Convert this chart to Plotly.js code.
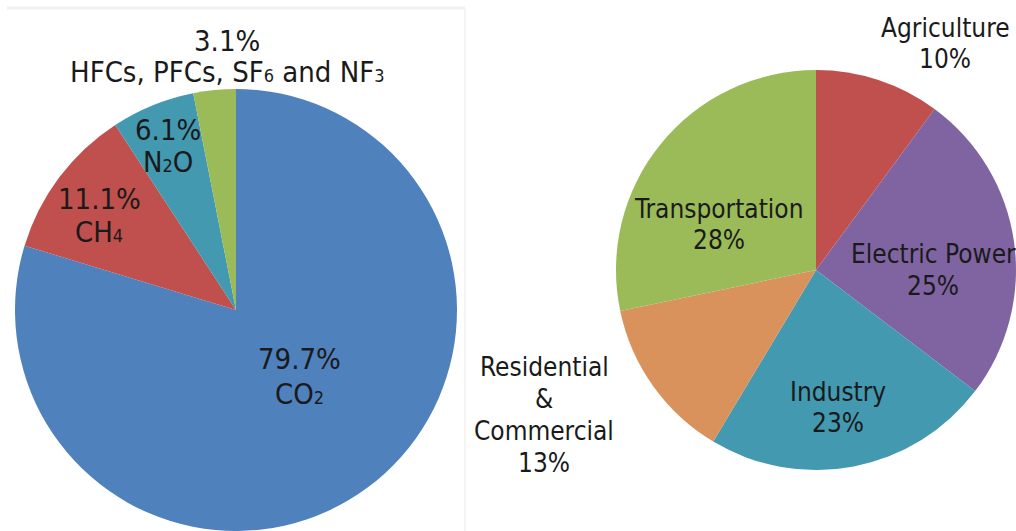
<!DOCTYPE html>
<html>
<head>
<meta charset="utf-8">
<script src="https://cdn.plot.ly/plotly-3.0.1.min.js"></script>
<style>html,body{margin:0;padding:0;background:#fff;}#chart{width:1016px;height:531px;}</style>
</head>
<body>
<div id="chart"></div>
<script>
// Left pie: greenhouse gases
const gasNames = ["CO₂", "CH₄", "N₂O", "HFCs, PFCs, SF₆ and NF₃"];
const gasValues = [79.7, 11.1, 6.1, 3.1];
const gasColors = ["#4F81BD", "#C0504D", "#4299B0", "#9BBB59"];

// Right pie: economic sectors
const sectorNames = ["Agriculture", "Electric Power", "Industry", "Residential & Commercial", "Transportation"];
const sectorValues = [10, 25, 23, 13, 28];
const sectorColors = ["#C0504D", "#8064A2", "#4299B0", "#D9925C", "#9BBB59"];

const W = 1016, H = 531;
const px = (x) => x / W;
const py = (y) => (H - y) / H;

const traces = [
  {
    type: "pie",
    labels: gasNames,
    values: gasValues,
    marker: {colors: gasColors, line: {width: 0}},
    sort: false,
    direction: "clockwise",
    rotation: 0,
    textinfo: "none",
    hoverinfo: "label+value",
    showlegend: false,
    domain: {x: [px(15), px(457)], y: [0, py(89)]}
  },
  {
    type: "pie",
    labels: sectorNames,
    values: sectorValues,
    marker: {colors: sectorColors, line: {width: 0}},
    sort: false,
    direction: "clockwise",
    rotation: 0,
    textinfo: "none",
    hoverinfo: "label+value",
    showlegend: false,
    domain: {x: [px(616), 1], y: [py(472), py(68)]}
  }
];

// label placement: [x centre, y centre of first line, line gap] in pixels, per slice
const gasLabelPos = [[299, 359, 35], [99, 199, 33], [168, 130, 32], [227, 41, 31]];
const sectorLabelPos = [[945, 28, 31], [933, 254, 32], [838, 392, 31], [544, 367, 32], [719, 209, 31]];

const FAMILY = "DejaVu Sans Condensed, DejaVu Sans, sans-serif";
const SUBS = {"₂": "2", "₃": "3", "₄": "4", "₆": "6"};
function subFmt(t, size) {
  const s = Math.round(size * 0.62);
  return t.replace(/[₂₃₄₆]/g, (c) => '<span style="font-size:' + s + 'px">' + SUBS[c] + '</span>');
}

const annotations = [];
function addLabel(lines, pos, size) {
  lines.forEach((t, i) => {
    annotations.push({
      x: px(pos[0]), y: py(pos[1] + i * pos[2]), xref: "paper", yref: "paper",
      text: subFmt(t, size), showarrow: false, xanchor: "center", yanchor: "middle",
      font: {family: FAMILY, size: size, color: "#1a1a1a"}
    });
  });
}
gasNames.forEach((n, i) => {
  addLabel([gasValues[i].toFixed(1) + "%", n], gasLabelPos[i], 29);
});
sectorNames.forEach((n, i) => {
  const pct = sectorValues[i] + "%";
  let lines;
  if (n.indexOf(" & ") >= 0) {
    const parts = n.split(" & ");
    lines = [parts[0], "&", parts[1], pct];
  } else {
    lines = [n, pct];
  }
  addLabel(lines, sectorLabelPos[i], 26);
});

const layout = {
  width: W, height: H,
  margin: {l: 0, r: 0, t: 0, b: 0},
  paper_bgcolor: "#ffffff",
  showlegend: false,
  annotations: annotations,
  shapes: [
    {type: "line", xref: "paper", yref: "paper", x0: px(7), x1: px(465), y0: py(8), y1: py(8), line: {color: "#f0f0f0", width: 3}, layer: "below"},
    {type: "line", xref: "paper", yref: "paper", x0: px(465), x1: px(465), y0: py(8), y1: 0, line: {color: "#f4f4f4", width: 2}, layer: "below"}
  ]
};

Plotly.newPlot("chart", traces, layout, {staticPlot: true, displayModeBar: false});
</script>
</body>
</html>
